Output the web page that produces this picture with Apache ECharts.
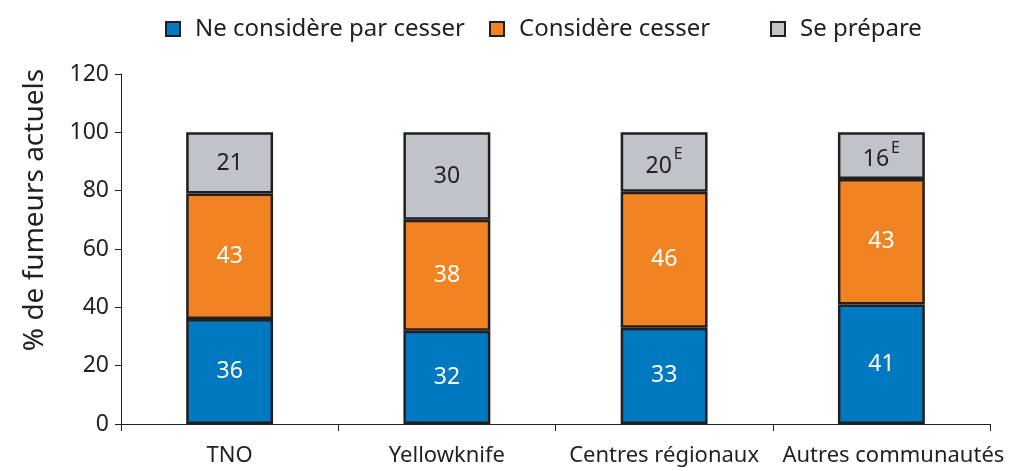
<!DOCTYPE html>
<html><head><meta charset="utf-8">
<script src="https://cdn.jsdelivr.net/npm/echarts@6/dist/echarts.min.js"></script>
<style>html,body{margin:0;padding:0;background:#fff}#c{width:1028px;height:471px}</style>
</head><body><div id="c"></div>
<script>
const categories = ['TNO', 'Yellowknife', 'Centres régionaux', 'Autres communautés'];
const seriesNames = ['Ne considère par cesser', 'Considère cesser', 'Se prépare'];
const valuesBlue = [36, 32, 33, 41];
const valuesOrange = [43, 38, 46.6, 43];
const valuesGray = [21, 30, 20.4, 16];
const labelsBlue = ['36', '32', '33', '41'];
const labelsOrange = ['43', '38', '46', '43'];
const labelsGray = ['21', '30', '20', '16'];
const labelsGrayFlag = ['', '', 'E', 'E'];
const yTicks = { min: 0, max: 120, interval: 20 };

const FONT = 'Noto Sans';
const DARK = '#231f20';
const colors = ['#0079c1', '#f28322', '#c1c3ca'];

function mk(idx, vals, labels, textColor, flags) {
  return {
    name: seriesNames[idx], type: 'bar', stack: 'all', barWidth: '40%',
    data: vals,
    itemStyle: { color: colors[idx], borderColor: DARK, borderWidth: 2.5 },
    label: {
      show: true, position: 'inside', fontFamily: FONT, fontSize: 23, color: textColor,
      formatter: p => flags && flags[p.dataIndex] ? '{n|' + labels[p.dataIndex] + '}{s|' + flags[p.dataIndex] + '}' : labels[p.dataIndex],
      rich: {
        n: { fontFamily: FONT, fontSize: 23, color: textColor, padding: [8, 2, 0, 0] },
        s: { fontFamily: FONT, fontSize: 16, color: textColor, verticalAlign: 'top', padding: [0, 0, 8, 0] }
      }
    },
    emphasis: { disabled: true }
  };
}

const legendCommon = {
  top: 12, itemWidth: 14, itemHeight: 14, icon: 'rect',
  textStyle: { fontFamily: FONT, fontSize: 24, color: DARK, padding: [0, 0, 0, 10] }
};

const chart = echarts.init(document.getElementById('c'), null, { renderer: 'canvas' });
chart.setOption({
  animation: false,
  legend: [
    Object.assign({}, legendCommon, { left: 160, data: [seriesNames[0]] }),
    Object.assign({}, legendCommon, { left: 484, data: [seriesNames[1]] }),
    Object.assign({}, legendCommon, { left: 765, data: [seriesNames[2]] })
  ],
  grid: { left: 121, right: 38, top: 74, bottom: 47, containLabel: false },
  xAxis: {
    type: 'category', data: categories,
    axisLine: { lineStyle: { color: DARK, width: 1 } },
    axisTick: { show: true, length: 7, lineStyle: { color: DARK } },
    axisLabel: { fontFamily: FONT, fontSize: 22, color: DARK, margin: 21, interval: 0,
      formatter: (v, i) => i === 3 ? '{r|' + v + '}' : v,
      rich: { r: { fontFamily: FONT, fontSize: 22, color: DARK, padding: [0, 0, 0, 24] } } }
  },
  yAxis: {
    type: 'value', min: yTicks.min, max: yTicks.max, interval: yTicks.interval,
    name: '% de fumeurs actuels', nameLocation: 'middle', nameGap: 72, nameRotate: 90,
    nameTextStyle: { fontFamily: FONT, fontSize: 28, color: DARK, padding: [0, 0, 0, 78] },
    axisLine: { show: true, lineStyle: { color: DARK, width: 1 } },
    axisTick: { show: true, length: 6, lineStyle: { color: DARK } },
    splitLine: { show: false },
    axisLabel: { fontFamily: FONT, fontSize: 23, color: DARK, margin: 12 }
  },
  series: [
    mk(0, valuesBlue, labelsBlue, '#ffffff'),
    mk(1, valuesOrange, labelsOrange, '#ffffff'),
    mk(2, valuesGray, labelsGray, DARK, labelsGrayFlag)
  ]
});
</script></body></html>
